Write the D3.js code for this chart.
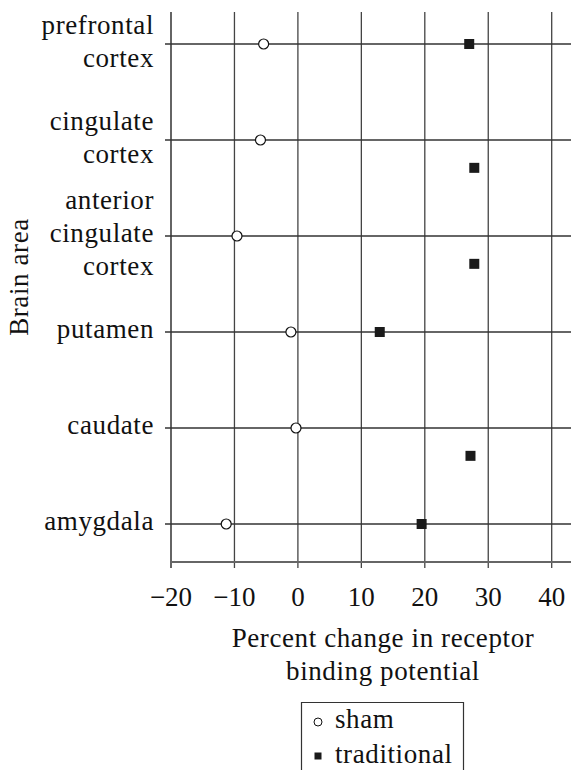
<!DOCTYPE html>
<html>
<head>
<meta charset="utf-8">
<script src="https://cdn.jsdelivr.net/npm/d3@7"></script>
<style>
  body { margin: 0; background: #fff; }
  text { font-family: "Liberation Serif", "Times New Roman", serif; fill: #111; font-size: 27px; letter-spacing: 0.6px; }
</style>
</head>
<body>
<script>
// brain areas, top to bottom (label lines)
var areas = [
    ["prefrontal", "cortex"],
    ["cingulate", "cortex"],
    ["anterior", "cingulate", "cortex"],
    ["putamen"],
    ["caudate"],
    ["amygdala"]
];

// percent change in receptor binding potential
var shamValues = [-5.4, -5.9, -9.6, -1.1, -0.3, -11.3];
var traditionalValues = [27.0, 27.8, 27.8, 12.9, 27.2, 19.5];

// row position of each traditional marker (some sit below their row line)
var traditionalRows = [0, 1.29, 2.29, 3, 4.29, 5];

var xTicks = [-20, -10, 0, 10, 20, 30, 40];
var legendLabels = ["sham", "traditional"];

var width = 571, height = 770;

var svg = d3.select("body").append("svg")
    .attr("width", width)
    .attr("height", height);

// x scale: percent change
var x = d3.scaleLinear()
    .domain([-20, 40])
    .range([171, 551.7]);

// y scale: row index
var y = d3.scaleLinear()
    .domain([0, 5])
    .range([44, 524]);

var plotTop = 12, plotBottom = 562, plotLeft = 171, plotRight = width;

// vertical grid lines
svg.selectAll(".vgrid")
    .data(xTicks)
    .enter()
    .append("line")
    .attr("class", "vgrid")
    .attr("x1", function(d) { return x(d); })
    .attr("x2", function(d) { return x(d); })
    .attr("y1", plotTop)
    .attr("y2", plotBottom + 6)
    .attr("stroke", function(d) { return d === -20 ? "#111" : "#444"; })
    .attr("stroke-width", 1.3);

// horizontal row lines
svg.selectAll(".hgrid")
    .data(areas)
    .enter()
    .append("line")
    .attr("class", "hgrid")
    .attr("x1", plotLeft - 6)
    .attr("x2", plotRight)
    .attr("y1", function(d, i) { return y(i); })
    .attr("y2", function(d, i) { return y(i); })
    .attr("stroke", "#333")
    .attr("stroke-width", 1.3);

// bottom axis line
svg.append("line")
    .attr("x1", plotLeft)
    .attr("x2", plotRight)
    .attr("y1", plotBottom)
    .attr("y2", plotBottom)
    .attr("stroke", "#666")
    .attr("stroke-width", 2);

// x tick labels
svg.selectAll(".xlabel")
    .data(xTicks)
    .enter()
    .append("text")
    .attr("class", "xlabel")
    .attr("x", function(d) { return x(d); })
    .attr("y", 606)
    .attr("text-anchor", "middle")
    .style("letter-spacing", "0px")
    .text(function(d) { return d < 0 ? "\u2212" + Math.abs(d) : d; });

// category labels
var labels = svg.selectAll(".area-label")
    .data(areas)
    .enter()
    .append("text")
    .attr("class", "area-label")
    .attr("text-anchor", "end");

labels.selectAll("tspan")
    .data(function(d, i) {
        return d.map(function(line, j) {
            return { text: line, y: y(i) + (j - (d.length - 1) / 2) * 33 + 6 };
        });
    })
    .enter()
    .append("tspan")
    .attr("x", 154)
    .attr("y", function(d) { return d.y; })
    .text(function(d) { return d.text; });

// y axis title
svg.append("text")
    .attr("transform", "translate(28,277) rotate(-90)")
    .attr("text-anchor", "middle")
    .text("Brain area");

// x axis title
svg.append("text")
    .attr("x", 383)
    .attr("y", 647)
    .attr("text-anchor", "middle")
    .text("Percent change in receptor");
svg.append("text")
    .attr("x", 383)
    .attr("y", 680)
    .attr("text-anchor", "middle")
    .text("binding potential");

// traditional markers
var sq = 10;
svg.selectAll(".trad")
    .data(traditionalValues)
    .enter()
    .append("rect")
    .attr("class", "trad")
    .attr("x", function(d) { return x(d) - sq / 2; })
    .attr("y", function(d, i) { return y(traditionalRows[i]) - sq / 2; })
    .attr("width", sq)
    .attr("height", sq)
    .attr("fill", "#1a1a1a");

// sham markers
svg.selectAll(".sham")
    .data(shamValues)
    .enter()
    .append("circle")
    .attr("class", "sham")
    .attr("cx", function(d) { return x(d); })
    .attr("cy", function(d, i) { return y(i); })
    .attr("r", 5)
    .attr("fill", "#fff")
    .attr("stroke", "#111")
    .attr("stroke-width", 1.2);

// legend box (open at the bottom)
svg.append("path")
    .attr("d", "M301.5,772 V702.5 H463.5 V772")
    .attr("fill", "none")
    .attr("stroke", "#333")
    .attr("stroke-width", 1.2);

svg.append("circle")
    .attr("cx", 318)
    .attr("cy", 722)
    .attr("r", 4)
    .attr("fill", "#fff")
    .attr("stroke", "#111")
    .attr("stroke-width", 1);

svg.append("rect")
    .attr("x", 314.5)
    .attr("y", 752.5)
    .attr("width", 7)
    .attr("height", 7)
    .attr("fill", "#1a1a1a");

svg.selectAll(".legend-label")
    .data(legendLabels)
    .enter()
    .append("text")
    .attr("class", "legend-label")
    .attr("x", 335)
    .attr("y", function(d, i) { return 728 + i * 35; })
    .text(function(d) { return d; });
</script>
</body>
</html>
